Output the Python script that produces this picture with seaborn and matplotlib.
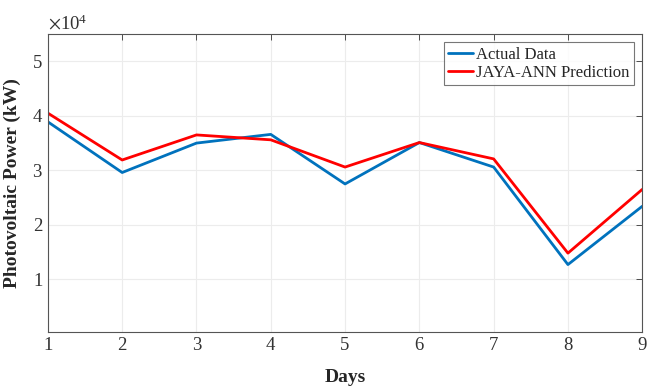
import numpy as np
import pandas as pd
import matplotlib
matplotlib.use("Agg")
import matplotlib.pyplot as plt
import seaborn as sns
from matplotlib.ticker import ScalarFormatter

days = [1, 2, 3, 4, 5, 6, 7, 8, 9]
actual = [38900, 29600, 35000, 36600, 27500, 35100, 30600, 12700, 23400]
jaya_ann = [40500, 31900, 36500, 35600, 30600, 35100, 32100, 14800, 26500]

df = pd.DataFrame({
    "Days": days * 2,
    "Power": actual + jaya_ann,
    "Series": ["Actual Data"] * len(days) + ["JAYA-ANN Prediction"] * len(days),
})

sns.set_style("white")
plt.rcParams['font.family'] = ['Liberation Serif', 'DejaVu Serif']
plt.rcParams['mathtext.fontset'] = 'stix'

fig = plt.figure(figsize=(6.56, 3.88), dpi=100)
ax = fig.add_axes([0.073, 0.144, 0.906, 0.768])

sns.lineplot(data=df, x="Days", y="Power", hue="Series",
             palette={"Actual Data": "#0072BD", "JAYA-ANN Prediction": "#FF0000"},
             linewidth=2, ax=ax)

ax.set_xlim(1, 9)
ax.set_ylim(300, 55000)
ax.set_xticks(days)
ax.set_yticks([10000, 20000, 30000, 40000, 50000])
fmt = ScalarFormatter(useMathText=True)
fmt.set_powerlimits((0, 0))
ax.yaxis.set_major_formatter(fmt)
ax.yaxis.get_offset_text().set_fontsize(13.5)
ax.yaxis.get_offset_text().set_color('#333333')

ax.grid(True, color='#ececec', linewidth=0.8)
for s in ax.spines.values():
    s.set_linewidth(0.8)
    s.set_color('#555555')
ax.tick_params(direction='in', length=4, width=0.6, top=True, right=True,
               labelsize=13.5, colors='#333333', labelcolor='#333333')

ax.set_xlabel("Days", fontsize=14, fontweight='bold', labelpad=11)
ax.set_ylabel("Photovoltaic Power (kW)", fontsize=14, fontweight='bold', labelpad=8)

leg = ax.legend(loc='upper right', fontsize=12, frameon=True, fancybox=False,
                edgecolor='#555555', handlelength=1.5, handletextpad=0.2,
                borderpad=0.25, labelspacing=0.15, borderaxespad=0.5)
leg.get_frame().set_linewidth(0.8)

fig.savefig("out.png", dpi=100)
